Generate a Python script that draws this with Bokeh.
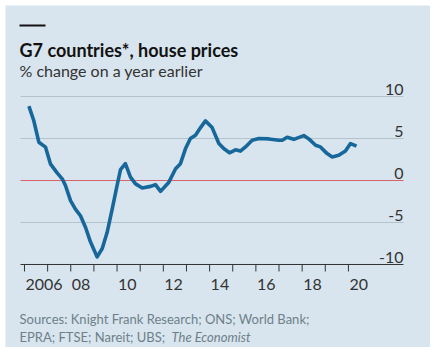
from bokeh.plotting import figure
from bokeh.models import Label, BoxAnnotation, Range1d, ColumnDataSource
from bokeh.core.properties import value
from bokeh.embed import file_html
from bokeh.resources import INLINE

# ---- data ----
years = [2006.19, 2006.40, 2006.62, 2006.91, 2007.12, 2007.41, 2007.63, 2007.77, 2007.99,
         2008.20, 2008.42, 2008.64, 2008.85, 2009.14, 2009.36, 2009.57, 2009.79, 2010.00,
         2010.15, 2010.36, 2010.58, 2010.80, 2011.09, 2011.45, 2011.66, 2011.88, 2012.24,
         2012.53, 2012.74, 2012.96, 2013.17, 2013.39, 2013.61, 2013.82, 2014.11, 2014.40,
         2014.61, 2014.86, 2015.12, 2015.33, 2015.55, 2015.84, 2016.13, 2016.56, 2016.99,
         2017.14, 2017.35, 2017.64, 2018.07, 2018.29, 2018.58, 2018.79, 2019.08, 2019.30,
         2019.58, 2019.87, 2020.09, 2020.35]
values = [8.85, 7.14, 4.56, 3.97, 1.98, 0.91, 0.2, -0.6, -2.4,
          -3.4, -4.2, -5.6, -7.3, -9.1, -8.1, -6.2, -3.4, -0.6,
          1.3, 2.0, 0.4, -0.4, -0.9, -0.7, -0.5, -1.3, -0.2,
          1.4, 2.0, 3.8, 5.0, 5.4, 6.3, 7.1, 6.3, 4.4,
          3.8, 3.3, 3.65, 3.5, 4.0, 4.8, 5.0, 4.95, 4.8,
          4.8, 5.15, 4.9, 5.35, 4.95, 4.2, 4.0, 3.2, 2.8,
          3.0, 3.5, 4.4, 4.1]
x_ticks = list(range(2006, 2021))
x_label_pos = [2006, 2008, 2010, 2012, 2014, 2016, 2018, 2020]
x_label_text = ["2006", "08", "10", "12", "14", "16", "18", "20"]
y_ticks = [-10, -5, 0, 5, 10]
y_tick_labels = ["-10", "-5", "0", "5", "10"]
grid_values = [-5, 5, 10]

title = "G7 countries*, house prices"
subtitle = "% change on a year earlier"
source1 = "Sources: Knight Frank Research; ONS; World Bank;"
source2 = "EPRA; FTSE; Nareit; UBS; "
source3 = "The Economist"

BG = "#d8e5ee"
FONT = "Lato"
INK = "#333333"
GREY = "#6e7f8a"
W, H = 425, 342

# plotting area (data units) and the whole-canvas range around it
PX_PER_UNIT = 8.4
xa, xb = 2005.827, 2022.38
tick_end = y_ticks[0] - 7 / PX_PER_UNIT

p = figure(width=W, height=H, output_backend="svg", toolbar_location=None,
           x_range=Range1d(2005.179, 2023.547), y_range=Range1d(-19.881, 20.833),
           min_border=0, min_border_left=0, min_border_right=0,
           min_border_top=0, min_border_bottom=0,
           background_fill_color=BG, border_fill_color=BG, outline_line_color=None,
           margin=(5, 7, 6, 5))
p.xaxis.visible = False
p.yaxis.visible = False
p.grid.visible = False

n = len(grid_values)
# gridlines
p.segment(x0=[xa] * n, y0=grid_values, x1=[xb] * n, y1=grid_values,
          line_color="#b4c2ca", line_width=1)
# zero line
p.segment(x0=[xa], y0=[0], x1=[xb], y1=[0], line_color="#d9636b", line_width=1.2)
# axis rule at -10 and yearly ticks below it
p.segment(x0=[xa], y0=[y_ticks[0]], x1=[xb], y1=[y_ticks[0]], line_color=INK, line_width=1)
p.segment(x0=x_ticks, y0=[y_ticks[0]] * len(x_ticks), x1=x_ticks,
          y1=[tick_end] * len(x_ticks), line_color=INK, line_width=1)

src = ColumnDataSource(dict(x=years, y=values))
p.line("x", "y", source=src, line_color="#17679a", line_width=3.6, line_join="round")

# y tick labels (right side, above their gridlines)
ysrc = ColumnDataSource(dict(x=[xb] * len(y_ticks), y=y_ticks, t=y_tick_labels))
p.text("x", "y", text="t", source=ysrc, text_align="right", text_baseline="bottom",
       y_offset=-1, text_font_size=value("16px"), text_color=INK,
       text_font=value(FONT))

# x tick labels, left-aligned at their tick
xsrc = ColumnDataSource(dict(x=x_label_pos, y=[y_ticks[0]] * len(x_label_pos), t=x_label_text))
p.text("x", "y", text="t", source=xsrc, text_align="left", text_baseline="alphabetic",
       x_offset=1, y_offset=20, text_font_size=value("16px"), text_color=INK,
       text_font=value(FONT))

# header / footer (screen units from the canvas' bottom-left)
p.add_layout(BoxAnnotation(left=14, right=40, top=H - 19, bottom=H - 21,
                           left_units="screen", right_units="screen",
                           top_units="screen", bottom_units="screen",
                           fill_color="#121212", fill_alpha=1, line_color=None))
p.add_layout(Label(x=14, y=H - 44, x_units="screen", y_units="screen", text=title,
                   text_font=FONT, text_font_style="bold", text_font_size="18px",
                   text_color="#121212", text_baseline="alphabetic"))
p.add_layout(Label(x=14, y=H - 65, x_units="screen", y_units="screen", text=subtitle,
                   text_font=FONT, text_font_size="16px",
                   text_color=INK, text_baseline="alphabetic"))
p.add_layout(Label(x=14, y=H - 313, x_units="screen", y_units="screen", text=source1,
                   text_font=FONT, text_font_size="13px",
                   text_color=GREY, text_baseline="alphabetic"))
p.add_layout(Label(x=14, y=H - 331, x_units="screen", y_units="screen", text=source2,
                   text_font=FONT, text_font_size="13px",
                   text_color=GREY, text_baseline="alphabetic"))
p.add_layout(Label(x=14 + 152, y=H - 331, x_units="screen", y_units="screen", text=source3,
                   text_font=FONT, text_font_size="13px", text_font_style="italic",
                   text_color=GREY, text_baseline="alphabetic"))

open("out.html", "w").write(file_html(p, INLINE))
